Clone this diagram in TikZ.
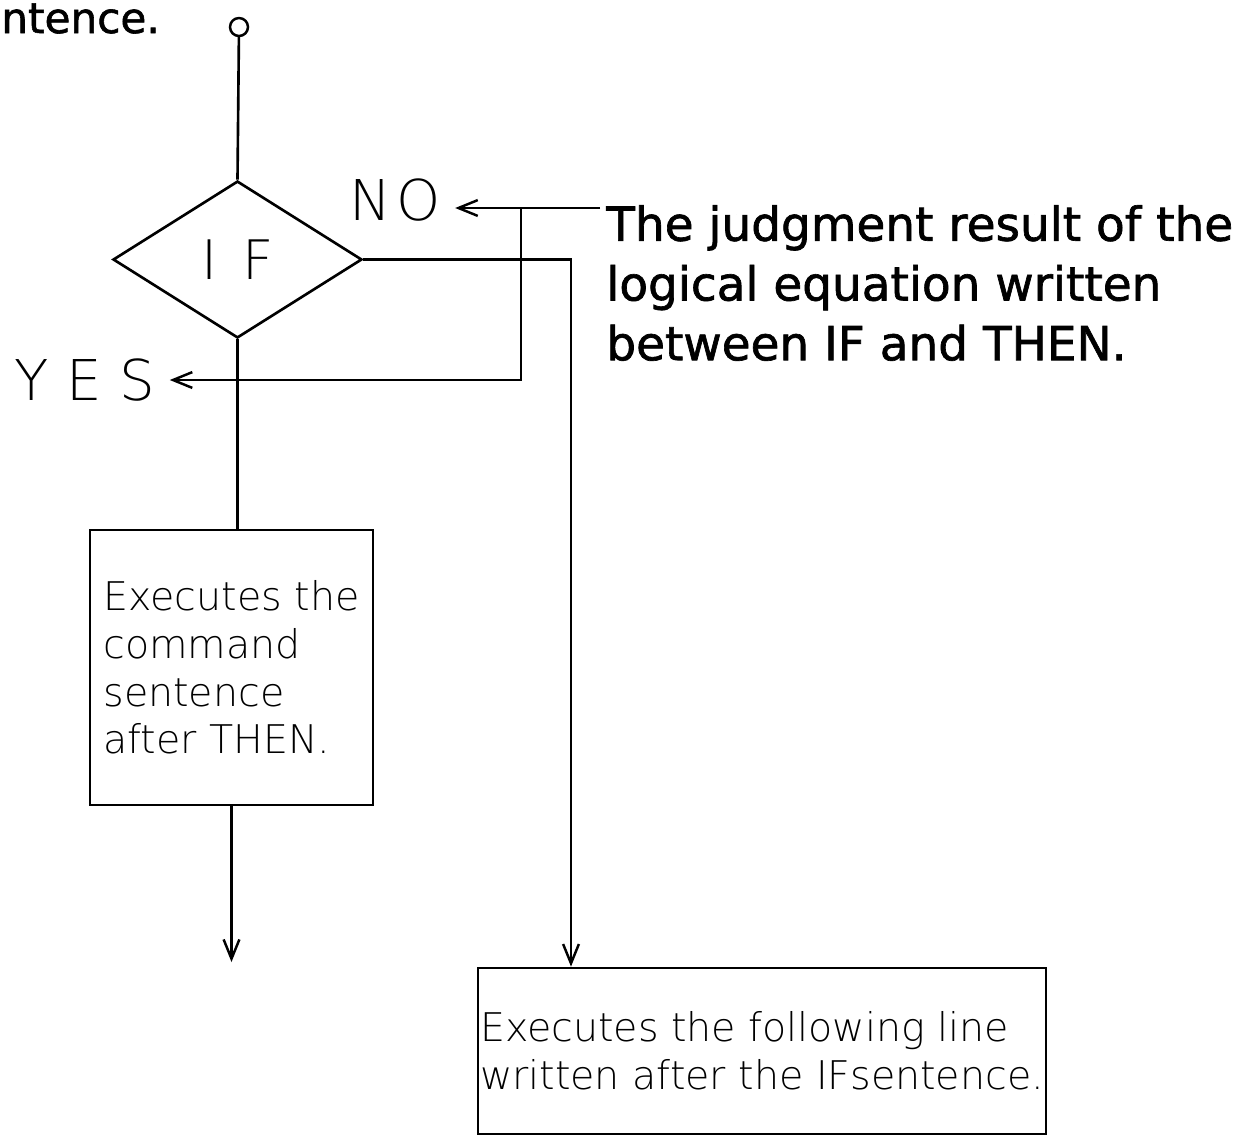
\documentclass[tikz,border=0pt]{standalone}
\usepackage{fontspec}
\setmainfont{DejaVu Sans}
\newfontfamily\thinfont{DejaVu Sans ExtraLight}
\newfontfamily\notefont[FakeBold=1.4]{DejaVu Sans}
\usetikzlibrary{shapes.geometric,arrows.meta}
\begin{document}
\begin{tikzpicture}[x=0.02cm,y=-0.02cm,
  line/.style={line width=1.5pt},
  arr/.style={line, -{Straight Barb[length=11pt,width=9pt,line width=1.4pt]}},
  procbox/.style={draw, line width=1.6pt, rectangle, align=left,
    font=\thinfont\fontsize{22.5}{27.2}\selectfont, inner sep=0pt},
  tag/.style={font=\thinfont\fontsize{32}{36}\selectfont, inner ysep=0pt, inner xsep=8pt},
  note/.style={font=\notefont\fontsize{26.7}{34}\selectfont, align=left, inner sep=0pt}]
\useasboundingbox (0,0) rectangle (1242,1137);

% tail of the preceding sentence
\node[anchor=base west, inner sep=0pt, font=\notefont\fontsize{24}{28}\selectfont] (frag) at (1,33) {ntence.};

% start terminal and decision
\node[circle, draw, line width=1.4pt, minimum size=0.36cm, inner sep=0pt] (s) at (239,27) {};
\node[diamond, draw, line width=1.5pt, minimum width=4.98cm, minimum height=3.14cm,
      aspect=1.59, inner sep=0pt, font=\thinfont\fontsize{31}{36}\selectfont] (if) at (237.5,259.5) {I\kern14pt F};

% outcome labels
\node[tag] (no) at (395,200) {N\kern3pt O};
\node[tag] (yes) at (85,380) {Y\kern10pt E\kern10pt S};

% explanatory note
\node[note, anchor=west] (jt) at (606,283) {The judgment result of the\\logical equation written\\between IF and THEN.};

% process boxes
\node[procbox, minimum width=5.66cm, minimum height=5.5cm] (box1) at (231.5,667.5)
  {Executes the\\command\\sentence\\after THEN.};
\node[procbox, minimum width=11.36cm, minimum height=3.32cm] (box2) at (762,1051)
  {Executes the following line\\written after the IFsentence.};

% connector helpers
\coordinate (jn) at (600,208);
\coordinate (jb) at (521,208);
\coordinate (c) at (571,0);
\coordinate (stop) at (232,962);

% flow lines
\draw[line] (s) -- (if.north);
\draw[line] (if.south) -- (if.south |- box1.north);
\draw[arr] (if.east) -| (box2.north -| c);
\draw[arr] (box1.south) -- (box1.south |- stop);

% note pointers
\draw[arr] (jn) -- (jn -| no.east);
\draw[arr] (jb) |- (yes.east);
\end{tikzpicture}
\end{document}
